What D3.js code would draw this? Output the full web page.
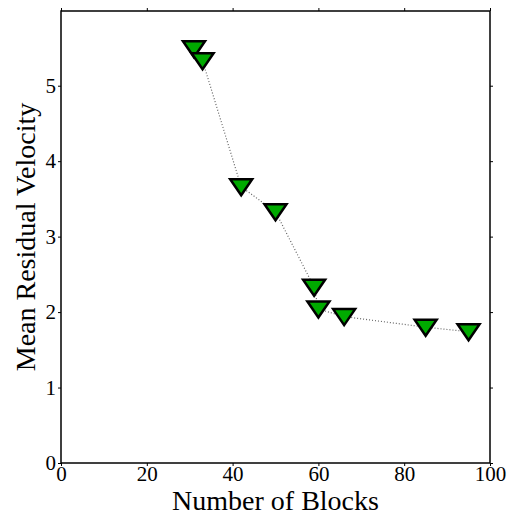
<!DOCTYPE html>
<html><head><meta charset="utf-8">
<script src="https://cdn.jsdelivr.net/npm/d3@7"></script>
<style>body{margin:0;background:#fff}svg{display:block}</style>
</head><body>
<script>
const blocks = [31, 33, 42, 50, 59, 60, 66, 85, 95];
const velocity = [5.49, 5.33, 3.66, 3.33, 2.33, 2.04, 1.94, 1.80, 1.74];
const xTicks = [0, 20, 40, 60, 80, 100];
const yTicks = [0, 1, 2, 3, 4, 5];
const xLabel = "Number of Blocks";
const yLabel = "Mean Residual Velocity";

const W = 509, H = 516;
const L = 61, R = 490, T = 11, B = 463;
const svg = d3.select("body").append("svg").attr("width", W).attr("height", H);
const x = d3.scaleLinear().domain([0, 100]).range([L, R]);
const y = d3.scaleLinear().domain([0, 5.99]).range([B, T]);
const font = "'Liberation Serif', 'Times New Roman', serif";

function styleAxis(g, labels) {
  g.select(".domain").remove();
  g.selectAll(".tick line").attr("stroke", "#000").attr("stroke-width", 1);
  g.selectAll(".tick text").attr("font-family", font).attr("font-size", 21).attr("fill", "#000");
  if (!labels) g.selectAll(".tick text").remove();
}
svg.append("g").attr("transform", `translate(0,${B})`)
  .call(d3.axisBottom(x).tickValues(xTicks).tickSize(3).tickPadding(0).tickFormat(d3.format("d")))
  .call(g => styleAxis(g, true));
svg.append("g").attr("transform", `translate(0,${T})`)
  .call(d3.axisTop(x).tickValues(xTicks).tickSize(3))
  .call(g => styleAxis(g, false));
svg.append("g").attr("transform", `translate(${L},0)`)
  .call(d3.axisLeft(y).tickValues(yTicks).tickSize(3).tickPadding(2).tickFormat(d3.format("d")))
  .call(g => styleAxis(g, true));
svg.append("g").attr("transform", `translate(${R},0)`)
  .call(d3.axisRight(y).tickValues(yTicks).tickSize(3))
  .call(g => styleAxis(g, false));

svg.append("rect").attr("x", L).attr("y", T).attr("width", R - L).attr("height", B - T)
  .attr("fill", "none").attr("stroke", "#000").attr("stroke-width", 1.5);

const pts = blocks.map((b, i) => [b, velocity[i]]);
svg.append("path").datum(pts)
  .attr("d", d3.line().x(d => x(d[0])).y(d => y(d[1])))
  .attr("fill", "none").attr("stroke", "#666").attr("stroke-width", 1.2)
  .attr("stroke-dasharray", "1,2");

const tri = "M-11,-7.5L11,-7.5L0,8.5Z";
svg.append("g").selectAll("path").data(pts).join("path")
  .attr("transform", d => `translate(${x(d[0])},${y(d[1])})`)
  .attr("d", tri).attr("fill", "#00aa00").attr("stroke", "#000")
  .attr("stroke-width", 2.5).attr("stroke-linejoin", "miter");

svg.append("text").attr("x", (L + R) / 2).attr("y", 510).attr("text-anchor", "middle")
  .attr("font-family", font).attr("font-size", 28).text(xLabel);
svg.append("text").attr("transform", `translate(35,${(T + B) / 2}) rotate(-90)`)
  .attr("text-anchor", "middle").attr("font-family", font).attr("font-size", 28).text(yLabel);
</script>
</body></html>
